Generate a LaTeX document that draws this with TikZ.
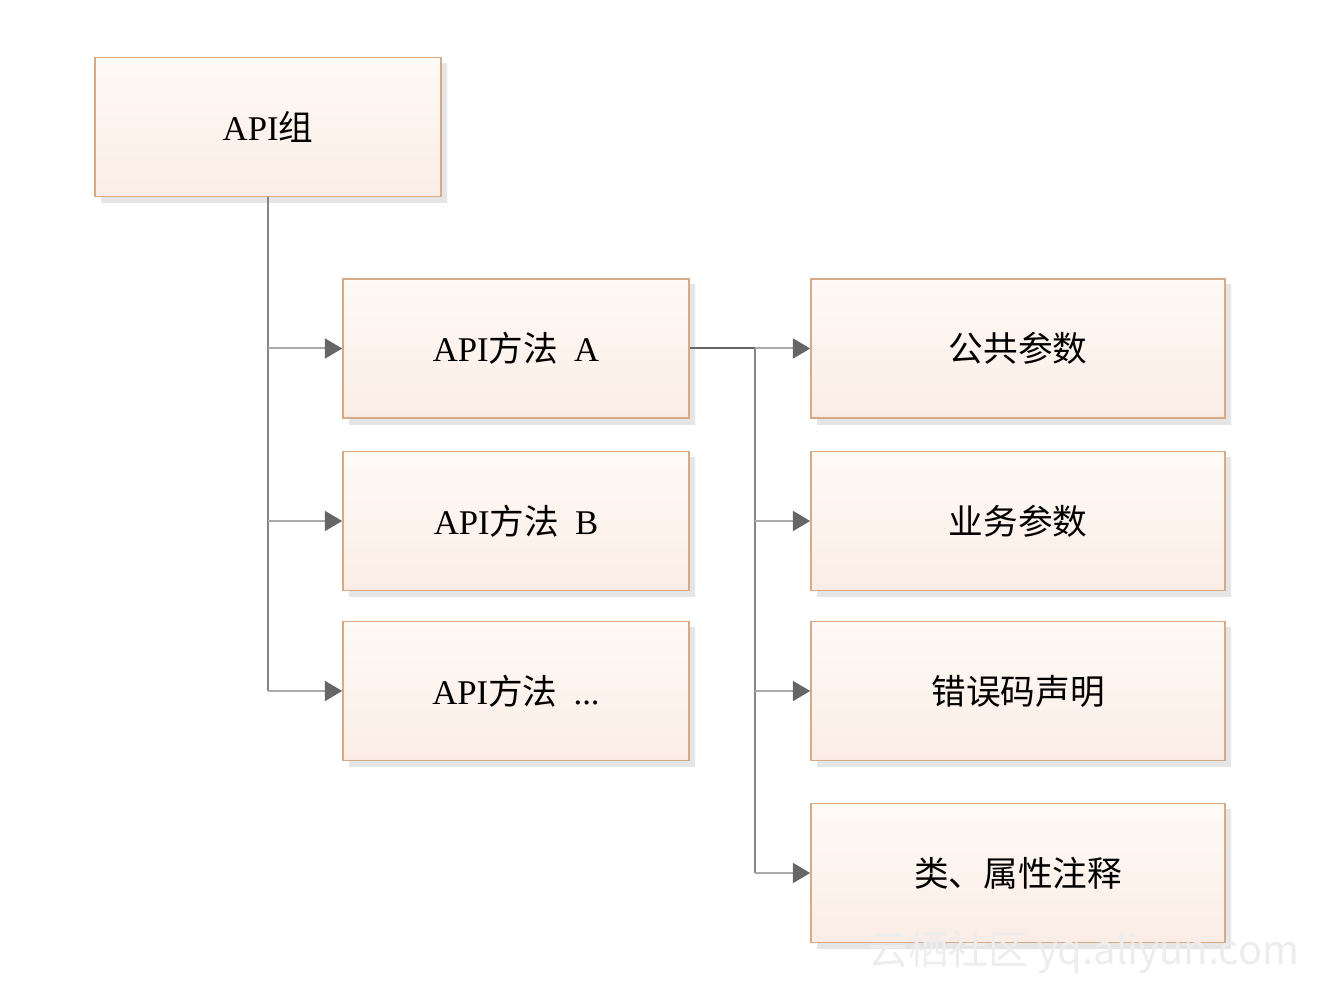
\documentclass[tikz,border=0pt]{standalone}
\usepackage{fontspec}
\setmainfont{Liberation Serif}
\newfontfamily\cjk{Noto Sans CJK SC}
\newfontfamily\wmfont{Noto Sans CJK SC}
\usetikzlibrary{arrows.meta,shadows}
\definecolor{boxborder}{HTML}{D4AA88}
\definecolor{boxtop}{HTML}{FFFAF7}
\definecolor{boxbot}{HTML}{FBEDE5}
\definecolor{trunkcol}{HTML}{858585}
\definecolor{branchcol}{HTML}{AAAAAA}
\definecolor{tipcol}{HTML}{666666}
\tikzset{
  box/.style={draw=boxborder, line width=1.2pt, top color=boxtop, bottom color=boxbot,
    minimum height=104.25pt, inner sep=0pt, font=\fontsize{26}{30}\selectfont,
    copy shadow={shadow xshift=4.5pt, shadow yshift=-4.5pt, draw=none, fill=black!10, top color=black!10, bottom color=black!10}},
  leftbox/.style={box, minimum width=259.5pt},
  rightbox/.style={box, minimum width=310.5pt},
  trunk/.style={draw=trunkcol, line width=1.5pt},
  branch/.style={draw=branchcol, line width=1.5pt, -{Triangle[length=13pt,width=15pt,color=tipcol,fill=tipcol]}},
}
\begin{document}
\begin{tikzpicture}[x=0.75pt,y=-0.75pt]
\useasboundingbox (0,0) rectangle (1318,984);
\node[leftbox] (g) at (268,127) {API{\cjk 组}};
\node[leftbox] (a) at (516,348.5) {API{\cjk 方法}\hspace{12pt}A};
\node[leftbox] (b) at (516,521) {API{\cjk 方法}\hspace{12pt}B};
\node[leftbox] (c) at (516,691) {API{\cjk 方法}\hspace{12pt}...};
\node[rightbox] (p1) at (1018,348.5) {\cjk 公共参数};
\node[rightbox] (p2) at (1018,521) {\cjk 业务参数};
\node[rightbox] (p3) at (1018,691) {\cjk 错误码声明};
\node[rightbox] (p4) at (1018,873) {\cjk 类、属性注释};
% left tree
\draw[trunk] (g.south) -- (g.south |- c.west);
\draw[branch] (g.south |- a.west) -- (a.west);
\draw[branch] (g.south |- b.west) -- (b.west);
\draw[branch] (g.south |- c.west) -- (c.west);
% right tree
\coordinate (j) at (755,348.5);
\draw[draw=tipcol, line width=1.5pt] (a.east) -- (j);
\draw[trunk] (j) -- (j |- p4.west);
\draw[branch] (j) -- (p1.west);
\draw[branch] (j |- p2.west) -- (p2.west);
\draw[branch] (j |- p3.west) -- (p3.west);
\draw[branch] (j |- p4.west) -- (p4.west);
% watermark
\node[anchor=west, text=black!7, font=\wmfont\fontsize{30}{34}\selectfont, inner sep=0pt] (wm) at (868,952) {云栖社区 yq.aliyun.com};
\end{tikzpicture}
\end{document}
